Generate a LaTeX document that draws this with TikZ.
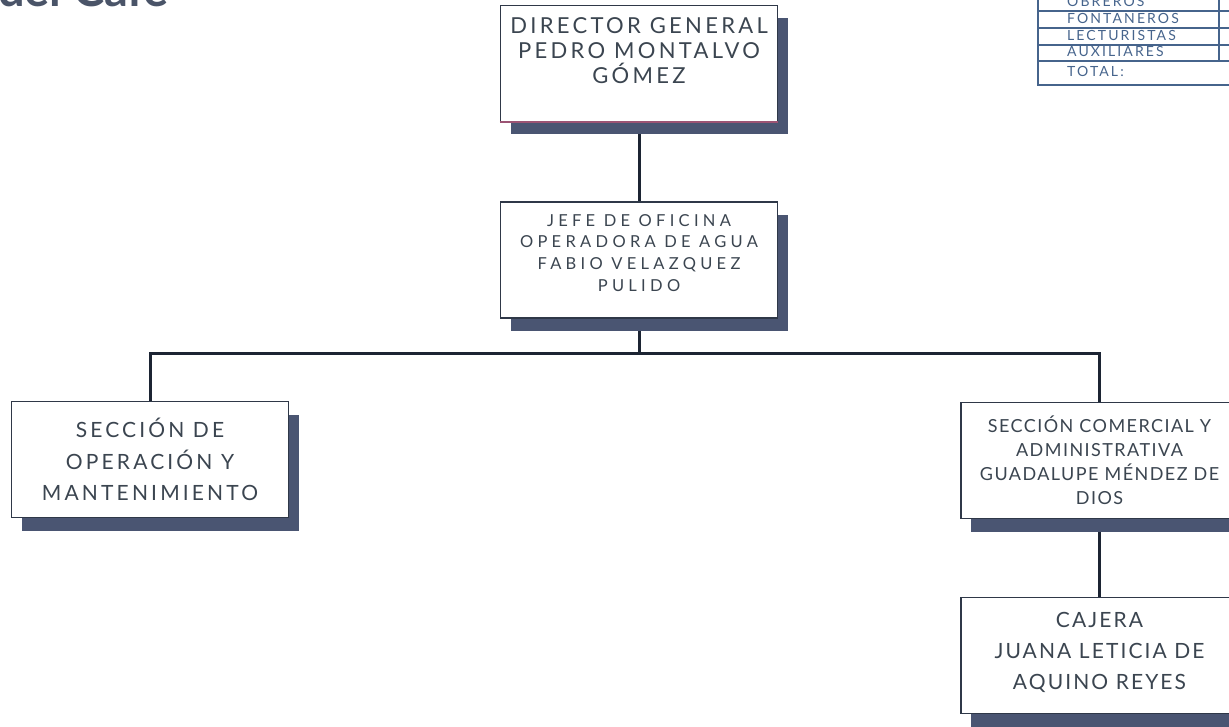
\documentclass[tikz,border=0pt]{standalone}
\usepackage{fontspec}
\setmainfont{Lato}
\newfontfamily\orgfont{Lato}
\newcommand\spaced[1]{\orgfont\addfontfeature{LetterSpace=#1}}
\usetikzlibrary{shadows,backgrounds}
\definecolor{inkgray}{HTML}{3B4550}
\definecolor{linenavy}{HTML}{1C2433}
\definecolor{boxline}{HTML}{2F3848}
\definecolor{shadowblue}{HTML}{4A5572}
\definecolor{tableblue}{HTML}{46648C}
\definecolor{titlegray}{HTML}{4A5468}
\definecolor{plumline}{HTML}{9C5474}

\begin{document}
\begin{tikzpicture}[x=1pt,y=-1pt,
  box/.style={draw=boxline, line width=1.5pt, fill=white, align=center,
    text=inkgray, inner sep=0pt, minimum width=277pt, minimum height=116pt,
    drop shadow={shadow xshift=10pt, shadow yshift=-13pt,
      fill=shadowblue, opacity=1}},
  link/.style={draw=linenavy, line width=3pt},
  row/.style={anchor=base west, text=tableblue, inner sep=0pt,
    font=\spaced{15}\fontsize{14}{14}\selectfont}]
  \useasboundingbox (0,0) rectangle (1229,727);
  \clip (0,0) rectangle (1229,727);

  % title, cut off by the page edge
  \node[anchor=base west, inner sep=0pt, text=titlegray,
        font=\bfseries\fontsize{47}{47}\selectfont] (title) at (-2,7) {del Cafe};

  % staff table
  \draw[tableblue, line width=1.2pt] (1038,-10) -- (1038,85) -- (1240,85);
  \foreach \y in {11,28,45,61}
    \draw[tableblue, line width=1.2pt] (1038,\y) -- (1240,\y);
  \draw[tableblue, line width=1.2pt] (1219,-10) -- (1219,61);
  \node[row] (obreros)     at (1067,7)  {OBREROS};
  \node[row] (fontaneros)  at (1067,24) {FONTANEROS};
  \node[row] (lecturistas) at (1067,41) {LECTURISTAS};
  \node[row] (auxiliares)  at (1067,57) {AUXILIARES};
  \node[row] (total)       at (1067,77) {TOTAL:};

  % boxes
  \node[box, font=\spaced{15}\fontsize{22}{25}\selectfont] (director) at (639,63.5)
    {DIRECTOR GENERAL\\PEDRO MONTALVO\\GÓMEZ\\[1pt]\mbox{}};
  \draw[plumline, line width=1.5pt] (director.south west) -- (director.south east);
  \node[box, font=\spaced{26}\fontsize{16.5}{21.7}\selectfont] (jefe) at (639,260)
    {JEFE DE OFICINA\\OPERADORA DE AGUA\\FABIO VELAZQUEZ\\PULIDO\\[-7pt]\mbox{}};
  \node[box, font=\spaced{15}\fontsize{21}{31.5}\selectfont] (operacion) at (150,459.5)
    {SECCIÓN DE\\OPERACIÓN Y\\MANTENIMIENTO};
  \node[box, font=\spaced{8}\fontsize{18}{23.9}\selectfont] (comercial) at (1099.5,460.5)
    {SECCIÓN COMERCIAL Y\\ADMINISTRATIVA\\GUADALUPE MÉNDEZ DE\\DIOS};
  \node[box, font=\spaced{10}\fontsize{21}{31}\selectfont] (cajera) at (1099.5,655.5)
    {CAJERA\\JUANA LETICIA DE\\AQUINO REYES\\[-21pt]\mbox{}};

  % connectors
  \begin{scope}[on background layer]
    \coordinate (bus) at (639,353);
    \draw[link] (director) -- (jefe);
    \draw[link] (jefe) -- (bus);
    \draw[link] (operacion.north) |- (bus) -| (comercial.north);
    \draw[link] (comercial) -- (cajera);
  \end{scope}
\end{tikzpicture}
\end{document}
